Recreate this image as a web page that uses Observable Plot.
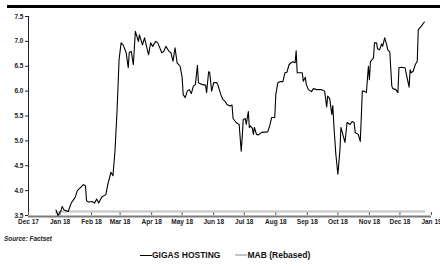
<!DOCTYPE html>
<html><head><meta charset="utf-8">
<script src="https://cdn.jsdelivr.net/npm/d3@7"></script>
<script src="https://cdn.jsdelivr.net/npm/@observablehq/plot@0.6"></script>
<style>
body{margin:0;width:440px;height:269px;position:relative;background:#fff;font-family:"Liberation Sans",Arial,sans-serif;overflow:hidden}
#rule{position:absolute;left:7px;right:0;top:5px;height:3px;background:#000}
#chart{position:absolute;left:0;top:0}
#source{position:absolute;left:4px;top:235px;font-size:6.4px;line-height:8px;font-weight:bold;font-style:italic;color:#222}
#legend{position:absolute;left:140px;top:250px;display:flex;align-items:center;font-size:8.5px;line-height:10px;font-weight:bold;color:#111}
.sw{display:inline-block;width:12px;height:0}
</style></head>
<body>
<div id="chart"></div>
<div id="rule"></div>
<div id="source">Source: Factset</div>
<div id="legend"></div>
<script>
const seriesNames = ["GIGAS HOSTING", "MAB (Rebased)"];
const seriesColors = ["#000000", "#c4c4c4"];

const gigasDates = ["2017-12-28","2017-12-30","2018-01-02","2018-01-03","2018-01-05","2018-01-09","2018-01-12","2018-01-16","2018-01-18","2018-01-24","2018-01-26","2018-01-27","2018-01-29",
"2018-02-02","2018-02-04","2018-02-06","2018-02-08","2018-02-11","2018-02-15","2018-02-17","2018-02-20","2018-02-22","2018-02-24","2018-02-26","2018-02-28",
"2018-03-02","2018-03-04","2018-03-07","2018-03-09","2018-03-10","2018-03-12","2018-03-14","2018-03-16","2018-03-19","2018-03-20","2018-03-23","2018-03-25","2018-03-27","2018-03-29","2018-03-31",
"2018-04-02","2018-04-05","2018-04-07","2018-04-11","2018-04-13","2018-04-15","2018-04-18","2018-04-20","2018-04-22","2018-04-24","2018-04-26","2018-04-29",
"2018-05-01","2018-05-02","2018-05-04","2018-05-06","2018-05-08","2018-05-10","2018-05-12","2018-05-14","2018-05-16","2018-05-17","2018-05-21","2018-05-24","2018-05-25","2018-05-27","2018-05-28","2018-05-30",
"2018-06-01","2018-06-04","2018-06-05","2018-06-08","2018-06-10","2018-06-12","2018-06-14","2018-06-17","2018-06-19","2018-06-20","2018-06-23","2018-06-26","2018-06-28","2018-06-29","2018-06-30",
"2018-07-02","2018-07-03","2018-07-05","2018-07-06","2018-07-07","2018-07-09","2018-07-10","2018-07-11","2018-07-13","2018-07-15","2018-07-18","2018-07-24","2018-07-26","2018-07-28","2018-07-31",
"2018-08-01","2018-08-03","2018-08-05","2018-08-08","2018-08-10","2018-08-12","2018-08-14","2018-08-16","2018-08-18","2018-08-20","2018-08-21","2018-08-22","2018-08-25","2018-08-27","2018-08-28","2018-08-30","2018-08-31",
"2018-09-02","2018-09-05","2018-09-07","2018-09-10","2018-09-15","2018-09-18","2018-09-20","2018-09-21","2018-09-23","2018-09-25","2018-09-26","2018-09-27","2018-09-29",
"2018-10-01","2018-10-03","2018-10-04","2018-10-06","2018-10-08","2018-10-10","2018-10-13","2018-10-15","2018-10-17","2018-10-18","2018-10-21","2018-10-23","2018-10-24","2018-10-25","2018-10-27","2018-10-29","2018-10-31",
"2018-11-01","2018-11-02","2018-11-05","2018-11-06","2018-11-08","2018-11-09","2018-11-11","2018-11-13","2018-11-14","2018-11-16","2018-11-18","2018-11-19","2018-11-21","2018-11-23","2018-11-24","2018-11-27","2018-11-29","2018-11-30",
"2018-12-02","2018-12-06","2018-12-08","2018-12-10","2018-12-11","2018-12-12","2018-12-14","2018-12-16","2018-12-18","2018-12-19","2018-12-21","2018-12-25"];

const gigasValues = [3.61,3.50,3.60,3.68,3.61,3.58,3.75,3.87,4.00,4.12,4.10,3.80,3.77,
3.78,3.75,3.83,3.75,3.87,3.92,4.13,4.37,4.30,4.80,5.60,6.63,
6.97,6.93,6.77,6.47,6.77,6.80,6.53,7.20,7.00,7.13,6.93,7.07,6.90,6.73,6.97,
6.90,7.00,6.97,6.77,6.80,6.90,6.80,6.77,6.60,6.87,6.57,6.50,
6.27,5.93,5.87,6.00,6.03,5.95,6.10,6.13,6.52,6.17,6.13,6.12,5.97,6.39,6.38,6.00,
6.17,6.17,6.13,5.93,5.83,5.80,5.73,5.70,5.72,5.45,5.37,5.33,4.79,5.07,5.43,
5.45,5.33,5.59,5.27,5.30,5.25,5.13,5.27,5.13,5.12,5.17,5.18,5.30,5.47,5.47,
5.93,6.17,6.19,6.19,6.37,6.38,6.53,6.57,6.59,6.57,6.81,6.37,6.37,6.37,6.20,6.28,6.13,
6.03,5.99,6.05,6.03,6.03,6.00,5.68,5.90,5.85,5.53,5.71,5.33,4.73,
4.33,4.80,5.27,5.12,4.97,5.37,5.33,5.39,5.37,5.17,5.13,4.99,5.47,6.00,6.00,5.97,6.50,
6.23,6.59,6.67,6.97,6.97,6.85,6.83,6.95,6.90,7.07,6.93,6.83,6.79,6.10,6.05,6.03,5.97,6.47,
6.48,6.47,6.27,6.08,6.43,6.37,6.40,6.53,6.60,7.23,7.28,7.39];

const mabDates = ["2017-12-28","2018-01-02","2018-06-30","2018-12-25"];
const mabValues = [3.55,3.58,3.58,3.58];

const monthTickDates = ["2017-12-01","2018-01-01","2018-02-01","2018-03-01","2018-04-01","2018-05-01","2018-06-01","2018-07-01","2018-08-01","2018-09-01","2018-10-01","2018-11-01","2018-12-01","2019-01-01"];
const monthTickLabels = ["Dec 17","Jan 18","Feb 18","Mar 18","Apr 18","May 18","Jun 18","Jul 18","Aug 18","Sep 18","Oct 18","Nov 18","Dec 18","Jan 19"];
const yTicks = [3.5,4.0,4.5,5.0,5.5,6.0,6.5,7.0,7.5];
const yTickLabels = ["3.5","4.0","4.5","5.0","5.5","6.0","6.5","7.0","7.5"];

const gigas = gigasDates.map((d, i) => ({date: new Date(d), value: gigasValues[i]}));
const mab = mabDates.map((d, i) => ({date: new Date(d), value: mabValues[i]}));
const monthTicks = monthTickDates.map(d => new Date(d));
const xLabel = d => monthTickLabels[monthTicks.findIndex(t => +t === +d)];
const yLabel = v => yTickLabels[yTicks.indexOf(v)];

const plot = Plot.plot({
  width: 440, height: 232,
  marginLeft: 28, marginRight: 9, marginTop: 16, marginBottom: 17,
  style: {fontFamily: "'Liberation Sans', Arial, sans-serif", fontSize: "6.5px", fontWeight: "bold", color: "#222", background: "transparent", overflow: "visible"},
  x: {type: "utc", domain: [monthTicks[0], monthTicks[monthTicks.length - 1]], label: null},
  y: {domain: [3.5, 7.5], label: null},
  marks: [
    Plot.ruleY([3.5], {stroke: "#7a7a7a", strokeWidth: 2, dy: 1}),
    Plot.ruleX([monthTicks[0]], {stroke: "#222", strokeWidth: 1}),
    Plot.axisY({ticks: yTicks, tickFormat: yLabel, tickSize: 3, tickPadding: 2, stroke: "#222", label: null}),
    Plot.axisX({ticks: monthTicks, tickSize: 3, dy: -3, fill: "none", stroke: "#555", label: null}),
    Plot.axisX({ticks: monthTicks, tickFormat: xLabel, tickSize: 0, tickPadding: 4, stroke: "none", label: null}),
    Plot.line(mab, {x: "date", y: "value", stroke: seriesColors[1], strokeWidth: 2}),
    Plot.line(gigas, {x: "date", y: "value", stroke: seriesColors[0], strokeWidth: 1.1})
  ]
});
document.getElementById("chart").appendChild(plot);

const legend = d3.select("#legend");
seriesNames.forEach((name, i) => {
  legend.append("span").attr("class", "sw")
    .style("border-top", `${i === 0 ? 1.5 : 2}px solid ${seriesColors[i]}`)
    .style("margin-left", i === 0 ? "0px" : "15px");
  legend.append("span").text(name);
});
</script>
</body></html>
